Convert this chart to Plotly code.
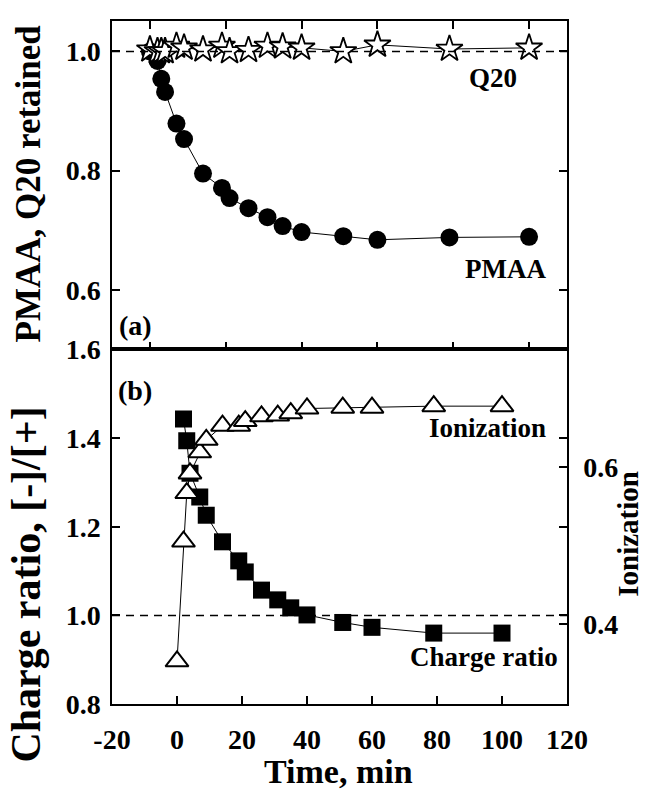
import plotly.graph_objects as go

# ---- data ----
t_top = [0, 2, 3, 4, 7, 9, 14, 19, 21, 26, 31, 35, 40, 51, 60, 79, 100]
pmaa = [1.0, 0.984, 0.954, 0.932, 0.879, 0.853, 0.795, 0.771, 0.754, 0.737,
        0.722, 0.707, 0.697, 0.690, 0.684, 0.688, 0.689]
q20 = [1.003, 1.0, 1.0, 1.0, 1.009, 1.006, 1.003, 1.009, 1.0, 1.002,
       1.009, 1.008, 1.006, 1.0, 1.011, 1.004, 1.006]

t_charge = [2, 3, 4, 7, 9, 14, 19, 21, 26, 31, 35, 40, 51, 60, 79, 100]
charge_ratio = [1.443, 1.394, 1.321, 1.267, 1.226, 1.166, 1.123, 1.098, 1.057,
                1.035, 1.017, 1.001, 0.984, 0.973, 0.960, 0.960]

t_ion = [0, 2, 3, 4, 7, 9, 14, 19, 21, 26, 31, 35, 40, 51, 60, 79, 100]
ionization = [0.352, 0.505, 0.567, 0.592, 0.619, 0.635, 0.653, 0.653, 0.659,
              0.665, 0.666, 0.669, 0.675, 0.676, 0.676, 0.678, 0.678]

x_ticks_bottom = [-20, 0, 20, 40, 60, 80, 100, 120]
x_ticklabels_bottom = ["-20", "0", "20", "40", "60", "80", "100", "120"]
x_ticks_top = [0, 20, 40, 60, 80, 100]

# ---- layout geometry (pixels) ----
W, H = 647, 795
L, R, T, B = 112, 80, 6, 91
PW, PH = W - L - R, H - T - B
split_py = 341.7


def px2x(px):
    return (px - L) / PW


def py2y(py):
    return (H - B - py) / PH


FONT = "Liberation Serif"
split = py2y(split_py)

fig = go.Figure()

# top panel
fig.add_trace(go.Scatter(
    x=t_top, y=pmaa, mode="lines+markers", xaxis="x", yaxis="y",
    line=dict(color="black", width=1),
    marker=dict(symbol="circle", size=18, color="black"),
    showlegend=False))
fig.add_trace(go.Scatter(
    x=t_top, y=q20, mode="lines+markers", xaxis="x", yaxis="y",
    line=dict(color="black", width=1),
    marker=dict(symbol="star", size=20, color="white",
                line=dict(color="black", width=1.8)),
    showlegend=False))

# bottom panel
fig.add_trace(go.Scatter(
    x=t_charge, y=charge_ratio, mode="lines+markers", xaxis="x2", yaxis="y2",
    line=dict(color="black", width=1),
    marker=dict(symbol="square", size=17, color="black"),
    showlegend=False))
fig.add_trace(go.Scatter(
    x=t_ion, y=ionization, mode="lines+markers", xaxis="x2", yaxis="y3",
    line=dict(color="black", width=1),
    marker=dict(symbol="triangle-up", size=20, color="white",
                line=dict(color="black", width=2)),
    showlegend=False))

axis_common = dict(
    showline=True, linecolor="black", linewidth=1.5,
    ticks="inside", ticklen=8, tickwidth=1.5, tickcolor="black",
    showgrid=False, zeroline=False,
    tickfont=dict(family=FONT, size=28, color="black", weight="bold"),
)

fig.update_layout(
    width=W, height=H,
    margin=dict(l=L, r=R, t=T, b=B),
    paper_bgcolor="white", plot_bgcolor="white",
    xaxis=dict(domain=[0, 1], anchor="y", range=[-10, 110],
               tickvals=x_ticks_top, showticklabels=False,
               mirror="ticks", **axis_common),
    yaxis=dict(domain=[split, 1], anchor="x", range=[0.5, 1.051],
               tickvals=[0.6, 0.8, 1.0], ticktext=["0.6", "0.8", "1.0"],
               mirror="ticks", ticklabelstandoff=4, **axis_common),
    xaxis2=dict(domain=[0, 1], anchor="y2", range=[-20, 120],
                tickvals=x_ticks_bottom, ticktext=x_ticklabels_bottom,
                mirror=True, ticklabelstandoff=10, **axis_common),
    yaxis2=dict(domain=[0, split], anchor="x2", range=[0.8, 1.6],
                tickvals=[0.8, 1.0, 1.2, 1.4, 1.6],
                ticktext=["0.8", "1.0", "1.2", "1.4", "1.6"],
                mirror="ticks", ticklabelstandoff=4, **axis_common),
    yaxis3=dict(domain=[0, split], anchor="x2", overlaying="y2", side="right",
                range=[0.2975, 0.7504], tickvals=[0.4, 0.6],
                ticktext=["0.4", "0.6"], ticklabelstandoff=9, **axis_common),
)

dash = "8px,6px"
fig.add_shape(type="line", xref="x domain", yref="y", x0=0, x1=1, y0=1.0, y1=1.0,
              line=dict(color="black", width=1.5, dash=dash))
fig.add_shape(type="line", xref="x2 domain", yref="y2", x0=0, x1=1, y0=1.0, y1=1.0,
              line=dict(color="black", width=1.5, dash=dash))


def label(text, px, py, size, angle=0):
    fig.add_annotation(
        text=text, xref="paper", yref="paper", x=px2x(px), y=py2y(py),
        xanchor="center", yanchor="middle", showarrow=False, textangle=angle,
        font=dict(family=FONT, size=size, color="black", weight="bold"))


label("Q20", 493, 64, 27)
label("PMAA", 505, 259, 27)
label("(a)", 135, 317, 28)
label("(b)", 135, 384, 28)
label("Ionization", 487, 422, 27)
label("Charge ratio", 484, 656, 27)

label("PMAA, Q20 retained", 28, 172, 35, -90)
label("Charge ratio, [-]/[+]", 26, 582, 42, -90)
label("Ionization", 628, 530, 29, -90)
label("Time, min", 338, 773, 34)

fig.write_html("out.html")
